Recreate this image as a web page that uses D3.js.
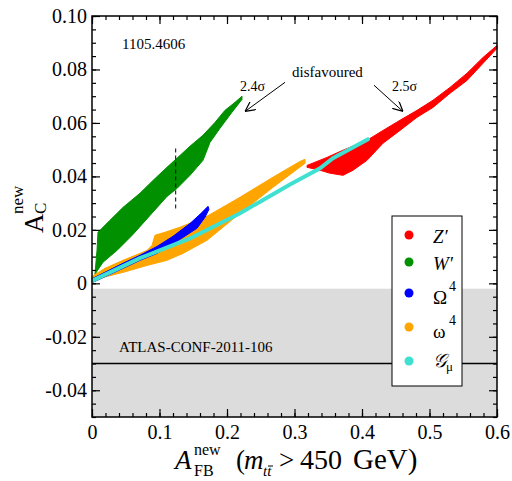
<!DOCTYPE html>
<html>
<head>
<meta charset="utf-8">
<script src="https://cdn.jsdelivr.net/npm/d3@7"></script>
<style>
body { margin: 0; background: #fff; }
text { font-family: "Liberation Serif", "Times New Roman", serif; fill: #000; }
</style>
</head>
<body>
<script>
// The svg
var width = 512;
var height = 481;
var margin = {left: 92, right: 15, top: 16, bottom: 64};

// Ticks
var xTicks = [0, 0.1, 0.2, 0.3, 0.4, 0.5, 0.6];
var xTickLabels = ["0", "0.1", "0.2", "0.3", "0.4", "0.5", "0.6"];
var yTicks = [-0.04, -0.02, 0, 0.02, 0.04, 0.06, 0.08, 0.10];
var yTickLabels = ["-0.04", "-0.02", "0", "0.02", "0.04", "0.06", "0.08", "0.10"];

// Model scan regions [A_FB, A_C], outline (upper edge, then lower edge back)
var zUpper = [[0.3185, 0.0441], [0.3481, 0.0471], [0.3719, 0.0498], [0.4074, 0.0535], [0.4311, 0.0572], [0.4563, 0.0610],
              [0.4815, 0.0647], [0.5052, 0.0685], [0.5304, 0.0733], [0.5556, 0.0786], [0.5793, 0.0845], [0.6, 0.0890]];
var zLower = [[0.6, 0.0879], [0.5793, 0.0823], [0.5556, 0.0759], [0.5304, 0.0711], [0.5052, 0.0658], [0.4815, 0.0621],
              [0.4563, 0.0572], [0.4311, 0.0524], [0.4074, 0.0460], [0.3867, 0.0423], [0.3719, 0.0404], [0.3526, 0.0412],
              [0.3378, 0.0423], [0.3185, 0.0434]];

var wUpper = [[0.0074, 0.0123], [0.0089, 0.0191], [0.0267, 0.0236], [0.0459, 0.0284], [0.0711, 0.0337], [0.0904, 0.0385],
              [0.1111, 0.0434], [0.1259, 0.0468], [0.1452, 0.0513], [0.1644, 0.0554], [0.1822, 0.0602], [0.1970, 0.0647],
              [0.2119, 0.0677], [0.2222, 0.0700]];
var wLower = [[0.2222, 0.0688], [0.2074, 0.0640], [0.1896, 0.0580], [0.1748, 0.0527], [0.1644, 0.0460], [0.1452, 0.0404],
              [0.1259, 0.0355], [0.1111, 0.0325], [0.0859, 0.0254], [0.0607, 0.0183], [0.0370, 0.0123], [0.0163, 0.0079],
              [0.0044, 0.0034]];

var omegaUpper = [[0, 0.0026], [0.0193, 0.0056], [0.0459, 0.0086], [0.0815, 0.0123], [0.0889, 0.0142], [0.0933, 0.0180],
                  [0.1081, 0.0191], [0.1304, 0.0210], [0.1704, 0.0251], [0.2193, 0.0322], [0.2681, 0.0397], [0.3081, 0.0456],
                  [0.3156, 0.0464]];
var omegaLower = [[0.3156, 0.0449], [0.2681, 0.0359], [0.2193, 0.0262], [0.1704, 0.0161], [0.1348, 0.0112], [0.1111, 0.0086],
                  [0.0815, 0.0067], [0.0459, 0.0041], [0.0119, 0.0019], [0, 0.0004]];

var bigOmegaUpper = [[0.0015, 0.0019], [0.0459, 0.0075], [0.0711, 0.0105], [0.0963, 0.0138], [0.1200, 0.0176],
                     [0.1452, 0.0224], [0.1600, 0.0258], [0.1719, 0.0288]];
var bigOmegaLower = [[0.1733, 0.0277], [0.1674, 0.0247], [0.1556, 0.0206], [0.1259, 0.0157], [0.0963, 0.0112],
                     [0.0711, 0.0086], [0.0459, 0.0056], [0.0015, 0.0004]];

var gmuLine = [[0.0015, 0.0011], [0.0711, 0.0094], [0.1452, 0.0168], [0.2193, 0.0262], [0.2444, 0.0299],
               [0.2933, 0.0370], [0.3378, 0.0430], [0.3570, 0.0468], [0.4089, 0.0539]];

// Legend
var legendColors = ["#ff0000", "#009000", "#0000ff", "#ffa500", "#40e0d0"];

// Limits and annotations
var atlasLimit = -0.03;
var shadeTop = -0.002;
var dashX = 0.124;
var dashY = [0.028, 0.0505];
var arrows = [[[0.286, 0.0752], [0.2267, 0.0643]], [[0.4178, 0.0741], [0.4607, 0.0643]]];

var svg = d3.select("body").append("svg")
    .attr("width", width)
    .attr("height", height);

var x = d3.scaleLinear().domain([0, 0.6]).range([margin.left, width - margin.right]);
var y = d3.scaleLinear().domain([-0.05, 0.10]).range([height - margin.bottom, margin.top]);

svg.append("defs").append("marker")
    .attr("id", "arrow")
    .attr("viewBox", "0 0 10 10")
    .attr("refX", 10).attr("refY", 5)
    .attr("markerWidth", 10).attr("markerHeight", 10)
    .attr("markerUnits", "userSpaceOnUse")
    .attr("orient", "auto")
    .append("path")
    .attr("d", "M0,0 L10,5 L0,10")
    .attr("fill", "none")
    .attr("stroke", "#000")
    .attr("stroke-width", 1.2);

// grey excluded region
svg.append("rect")
    .attr("x", x(0)).attr("y", y(shadeTop))
    .attr("width", x(0.6) - x(0))
    .attr("height", y(-0.05) - y(shadeTop))
    .attr("fill", "#dcdcdc");

svg.append("line")
    .attr("x1", x(0)).attr("x2", x(0.6))
    .attr("y1", y(atlasLimit)).attr("y2", y(atlasLimit))
    .attr("stroke", "#000").attr("stroke-width", 1.5);

var outline = d3.line().x(d => x(d[0])).y(d => y(d[1]));

function band(upper, lower, color) {
    svg.append("path")
        .attr("d", outline(upper.concat(lower)) + "Z")
        .attr("fill", color)
        .attr("stroke", color)
        .attr("stroke-width", 1)
        .attr("stroke-linejoin", "round");
}

band(zUpper, zLower, legendColors[0]);
band(wUpper, wLower, legendColors[1]);
band(omegaUpper, omegaLower, legendColors[3]);
band(bigOmegaUpper, bigOmegaLower, legendColors[2]);

svg.append("path")
    .attr("d", outline(gmuLine))
    .attr("fill", "none")
    .attr("stroke", legendColors[4])
    .attr("stroke-width", 4)
    .attr("stroke-linecap", "round");

// dashed marker line
svg.append("line")
    .attr("x1", x(dashX)).attr("x2", x(dashX))
    .attr("y1", y(dashY[0])).attr("y2", y(dashY[1]))
    .attr("stroke", "#000").attr("stroke-width", 1)
    .attr("stroke-dasharray", "4,3");

arrows.forEach(function (a) {
    svg.append("line")
        .attr("x1", x(a[0][0])).attr("y1", y(a[0][1]))
        .attr("x2", x(a[1][0])).attr("y2", y(a[1][1]))
        .attr("stroke", "#000").attr("stroke-width", 1)
        .attr("marker-end", "url(#arrow)");
});

// text annotations
function note(t, vx, vy, size) {
    svg.append("text").attr("x", x(vx)).attr("y", y(vy)).attr("font-size", size).text(t);
}
note("1105.4606", 0.0444, 0.0875, 15);
note("disfavoured", 0.2963, 0.0771, 15);
note("2.4σ", 0.2193, 0.0718, 14);
note("2.5σ", 0.4444, 0.0718, 14);
note("ATLAS-CONF-2011-106", 0.04, -0.0258, 15);

// axes, ticks inside on all four sides
var yMinor = y.ticks(30);
var xMinor = x.ticks(30);

function drawAxis(axis, tx, ty) {
    var g = svg.append("g").attr("transform", "translate(" + tx + "," + ty + ")").call(axis);
    g.select(".domain").remove();
    g.selectAll("line").attr("stroke", "#000").attr("stroke-width", 1.2);
    g.selectAll("text").attr("font-size", 20).attr("font-family", "Liberation Serif, serif");
    return g;
}

drawAxis(d3.axisBottom(x).tickValues(xMinor).tickSize(-4).tickFormat(""), 0, y(-0.05));
drawAxis(d3.axisBottom(x).tickValues(xTicks).tickSize(-8).tickPadding(8)
    .tickFormat((d, i) => xTickLabels[i]), 0, y(-0.05));
drawAxis(d3.axisTop(x).tickValues(xMinor).tickSize(-4).tickFormat(""), 0, y(0.10));
drawAxis(d3.axisTop(x).tickValues(xTicks).tickSize(-8).tickFormat(""), 0, y(0.10));
drawAxis(d3.axisLeft(y).tickValues(yMinor).tickSize(-4).tickFormat(""), x(0), 0);
drawAxis(d3.axisLeft(y).tickValues(yTicks).tickSize(-8).tickPadding(5)
    .tickFormat((d, i) => yTickLabels[i]), x(0), 0);
drawAxis(d3.axisRight(y).tickValues(yMinor).tickSize(-4).tickFormat(""), x(0.6), 0);
drawAxis(d3.axisRight(y).tickValues(yTicks).tickSize(-8).tickFormat(""), x(0.6), 0);

svg.append("rect")
    .attr("x", x(0)).attr("y", y(0.10))
    .attr("width", x(0.6) - x(0)).attr("height", y(-0.05) - y(0.10))
    .attr("fill", "none").attr("stroke", "#000").attr("stroke-width", 1.5);

// legend
var lg = svg.append("g").attr("transform", "translate(392,216)");
lg.append("rect").attr("width", 70).attr("height", 170)
    .attr("fill", "#fff").attr("stroke", "#000").attr("stroke-width", 1);
var rowY = [19, 46, 77, 111, 145];
lg.selectAll("circle").data(legendColors).join("circle")
    .attr("cx", 17).attr("cy", (d, i) => rowY[i]).attr("r", 4.5).attr("fill", d => d);

var lx = 41;
lg.append("text").attr("x", lx).attr("y", rowY[0] + 8).attr("font-size", 19).attr("font-style", "italic").text("Z′");
lg.append("text").attr("x", lx).attr("y", rowY[1] + 8).attr("font-size", 19).attr("font-style", "italic").text("W′");
lg.append("text").attr("x", lx).attr("y", rowY[2] + 11).attr("font-size", 19).text("Ω");
lg.append("text").attr("x", lx + 16).attr("y", rowY[2] - 2).attr("font-size", 14).text("4");
lg.append("text").attr("x", lx).attr("y", rowY[3] + 11).attr("font-size", 19).text("ω");
lg.append("text").attr("x", lx + 16).attr("y", rowY[3] - 2).attr("font-size", 14).text("4");
lg.append("text").attr("x", lx).attr("y", rowY[4] + 6).attr("font-size", 19).attr("font-style", "italic")
    .style("font-family", "'DejaVu Serif', serif").text("𝒢");
lg.append("text").attr("x", lx + 13).attr("y", rowY[4] + 10).attr("font-size", 13).text("μ");

// axis titles
var xl = svg.append("g");
xl.append("text").attr("x", 175).attr("y", 469).attr("font-size", 27).attr("font-style", "italic").text("A");
xl.append("text").attr("x", 194).attr("y", 455).attr("font-size", 16).text("new");
xl.append("text").attr("x", 194).attr("y", 476).attr("font-size", 16).text("FB");
xl.append("text").attr("x", 236).attr("y", 469).attr("font-size", 27).text("(");
xl.append("text").attr("x", 244).attr("y", 469).attr("font-size", 27).attr("font-style", "italic").text("m");
xl.append("text").attr("x", 263).attr("y", 476).attr("font-size", 15).attr("font-style", "italic").text("tt");
xl.append("line").attr("x1", 268).attr("x2", 273).attr("y1", 466).attr("y2", 466).attr("stroke", "#000").attr("stroke-width", 1);
xl.append("text").attr("x", 279).attr("y", 469).attr("font-size", 27).text(">");
xl.append("text").attr("x", 300).attr("y", 469).attr("font-size", 28).text("450");
xl.append("text").attr("x", 353).attr("y", 469).attr("font-size", 29).text("GeV)");

var yl = svg.append("g");
yl.append("text").attr("transform", "translate(43,233) rotate(-90)").attr("font-size", 27).text("A");
yl.append("text").attr("transform", "translate(46,214) rotate(-90)").attr("font-size", 17).text("C");
yl.append("text").attr("transform", "translate(23,214) rotate(-90)").attr("font-size", 17).text("new");
</script>
</body>
</html>
